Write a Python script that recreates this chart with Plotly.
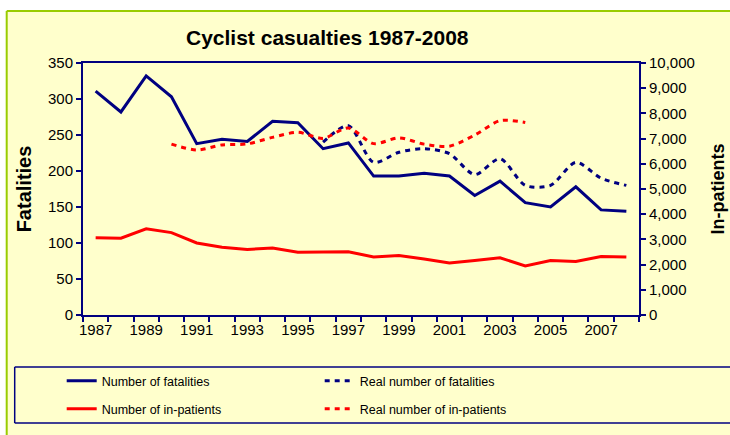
import plotly.graph_objects as go

years = list(range(1987, 2009))
fatalities = [311, 282, 332, 303, 238, 244, 241, 269, 267, 231, 239, 193,
              193, 197, 193, 166, 186, 156, 150, 178, 146, 144]
inpatients = [3070, 3050, 3420, 3270, 2860, 2690, 2600, 2660, 2490, 2490, 2510, 2300,
              2360, 2220, 2060, 2160, 2270, 1950, 2160, 2120, 2320, 2300]
real_fat_years = list(range(1996, 2009))
real_fatalities = [240, 263, 212, 226, 231, 224, 195, 217, 180, 180, 212, 190, 180]
real_inp_years = list(range(1990, 2005))
real_inpatients = [6780, 6550, 6750, 6790, 7050, 7250, 7010, 7420, 6800, 7030,
                   6780, 6700, 7140, 7710, 7640]
x_tick_years = list(range(1987, 2009, 2))

NAVY = "#000080"
RED = "#FF0000"
BG = "#FFFFCC"
GREEN = "#99CC00"
FONT = "Liberation Sans, Arial, sans-serif"

# plot area in pixels
L, R, T, B = 83.3, 639.3, 63, 315
W, H = 730, 435


def px2x(p):
    return (p - L) / (R - L)


def px2y(p):
    return (B - p) / (B - T)


fig = go.Figure()
fig.add_trace(go.Scatter(x=years, y=fatalities, name="Number of fatalities",
                         mode="lines", line=dict(color=NAVY, width=3), legend="legend"))
fig.add_trace(go.Scatter(x=real_fat_years, y=real_fatalities, name="Real number of fatalities",
                         mode="lines", line=dict(color=NAVY, width=3, dash="5px,5px",
                                                 shape="spline", smoothing=0.8),
                         legend="legend"))
fig.add_trace(go.Scatter(x=years, y=inpatients, name="Number of in-patients",
                         mode="lines", line=dict(color=RED, width=3), yaxis="y2",
                         legend="legend2"))
fig.add_trace(go.Scatter(x=real_inp_years, y=real_inpatients, name="Real number of in-patients",
                         mode="lines", line=dict(color=RED, width=3, dash="5px,5px",
                                                 shape="spline", smoothing=0.8),
                         yaxis="y2", legend="legend2"))

axis_common = dict(showline=True, linecolor=NAVY, linewidth=2, showgrid=False,
                   zeroline=False, tickcolor=NAVY, ticklen=5, tickwidth=1.5,
                   automargin=False,
                   tickfont=dict(family=FONT, size=15, color="black"))

legend_common = dict(orientation="h", xanchor="left", yanchor="middle",
                     bgcolor="rgba(0,0,0,0)", entrywidth=213, entrywidthmode="pixels",
                     font=dict(family=FONT, size=12.5, color="black"))


def pline(x0, y0, x1, y1, color, width):
    return dict(type="line", xref="paper", yref="paper", layer="below",
                x0=px2x(x0), y0=px2y(y0), x1=px2x(x1), y1=px2y(y1),
                line=dict(color=color, width=width))


fig.update_layout(
    width=W, height=H,
    margin=dict(l=L, r=W - R, t=T, b=H - B, autoexpand=False),
    paper_bgcolor="white", plot_bgcolor=BG,
    font=dict(family=FONT, color="black"),
    showlegend=True,
    xaxis=dict(**axis_common, range=[1986.5, 2008.5], tickmode="array",
               tickvals=x_tick_years, ticktext=[str(y) for y in x_tick_years],
               ticks="", mirror=True,
               minor=dict(tickmode="linear", tick0=1986.5, dtick=1, ticks="outside",
                          ticklen=5, tickcolor=NAVY, tickwidth=1.5)),
    yaxis=dict(**axis_common, range=[0, 350], dtick=50, ticks="outside", mirror=True,
               title=dict(text="<b>Fatalities</b>", font=dict(family=FONT, size=20),
                          standoff=11)),
    yaxis2=dict(**axis_common, range=[0, 10000], dtick=1000, ticks="outside",
                overlaying="y", side="right", tickformat=",",
                title=dict(text="<b>In-patients</b>", font=dict(family=FONT, size=18),
                           standoff=18)),
    legend=dict(**legend_common, x=px2x(62), y=px2y(381)),
    legend2=dict(**legend_common, x=px2x(62), y=px2y(409)),
    shapes=[
        dict(type="rect", xref="paper", yref="paper", layer="below",
             x0=px2x(7), x1=px2x(780), y0=px2y(480), y1=px2y(11),
             fillcolor=BG, line=dict(width=0)),
        pline(7, 11, 780, 11, GREEN, 2),
        pline(7, 11, 7, 480, GREEN, 2),
        pline(15, 367, 780, 367, NAVY, 1.5),
        pline(15, 423, 780, 423, NAVY, 1.5),
        pline(15, 367, 15, 423, NAVY, 1.5),
    ],
    annotations=[
        dict(text="<b>Cyclist casualties 1987-2008</b>", xref="paper", yref="paper",
             x=px2x(328), y=px2y(38), xanchor="center", yanchor="middle",
             showarrow=False, font=dict(family=FONT, size=21, color="black")),
    ],
)

fig.write_html("out.html", config={"displayModeBar": False},
               post_script="document.body.style.margin='0';document.body.style.overflow='hidden';")
